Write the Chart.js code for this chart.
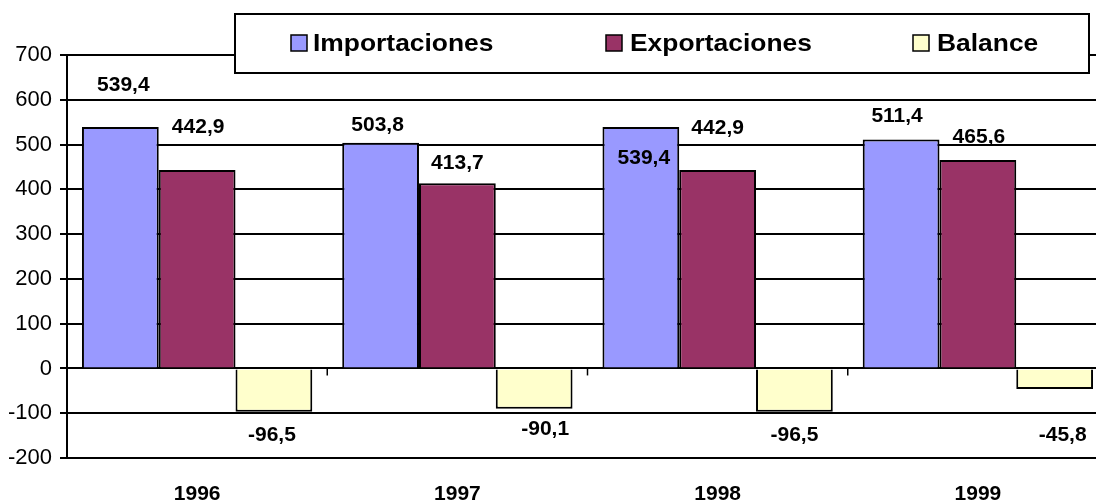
<!DOCTYPE html>
<html>
<head>
<meta charset="utf-8">
<script src="https://cdn.jsdelivr.net/npm/chart.js@4/dist/chart.umd.min.js"></script>
<style>
  html, body { margin: 0; padding: 0; background: #fff; overflow: hidden; }
  #wrap { position: absolute; left: 0; top: 0; width: 1110px; height: 502px; }
</style>
</head>
<body>
<div id="wrap"><canvas id="chart"></canvas></div>
<script>
// ── Data ─────────────────────────────────────────────
const years         = ['1996', '1997', '1998', '1999'];
const importaciones = [539.4, 503.8, 539.4, 511.4];
const exportaciones = [442.9, 413.7, 442.9, 465.6];
const balance       = [-96.5, -90.1, -96.5, -45.8];
const yTicks        = [-200, -100, 0, 100, 200, 300, 400, 500, 600, 700];

const FONT = "'Liberation Sans', Arial, sans-serif";
const COLORS = ['#9999ff', '#993366', '#ffffcc'];

// label nudges (px) relative to bar top, as placed in the original
const labelDy = [
  [-42, -18, 31, -23],
  [-43, -20, -42, -23],
  [0, -6, 0, 0],
];
const labelDx = [
  [3, -3, 3, -4],
  [1, 0, 0, 1],
  [-2, 11, 0, 8],
];

const fmt = v => v.toFixed(1).replace('.', ',');

// ── Plugins ──────────────────────────────────────────
const valueLabels = {
  id: 'valueLabels',
  afterDatasetsDraw(chart) {
    const { ctx } = chart;
    const yScale = chart.scales.y;
    ctx.save();
    ctx.font = `bold 21px ${FONT}`;
    ctx.fillStyle = '#000';
    ctx.textAlign = 'center';
    ctx.textBaseline = 'middle';
    chart.data.datasets.forEach((ds, di) => {
      chart.getDatasetMeta(di).data.forEach((bar, i) => {
        let y;
        if (di === 2) y = yScale.getPixelForValue(-150) + labelDy[di][i];
        else y = bar.y + labelDy[di][i];
        ctx.fillText(fmt(ds.data[i]), bar.x + labelDx[di][i], y);
      });
    });
    ctx.restore();
  },
};

const zeroTicks = {
  id: 'zeroTicks',
  afterDraw(chart) {
    const { ctx } = chart;
    const x = chart.scales.x, y = chart.scales.y;
    const y0 = y.getPixelForValue(0);
    ctx.save();
    ctx.strokeStyle = '#000';
    ctx.lineWidth = 1.5;
    for (let i = 0; i < years.length - 1; i++) {
      const px = (x.getPixelForValue(i) + x.getPixelForValue(i + 1)) / 2;
      ctx.beginPath();
      ctx.moveTo(px, y0);
      ctx.lineTo(px, y0 + 7);
      ctx.stroke();
    }
    ctx.restore();
  },
};

const boxLegend = {
  id: 'boxLegend',
  afterDraw(chart) {
    const { ctx } = chart;
    ctx.save();
    ctx.fillStyle = '#fff';
    ctx.fillRect(235, 14, 854, 59);
    ctx.strokeStyle = '#000';
    ctx.lineWidth = 2;
    ctx.strokeRect(235, 14, 854, 59);
    const boxX  = [291, 606, 913];
    const textX = [313, 630, 937];
    ctx.font = `bold 24px ${FONT}`;
    ctx.textBaseline = 'middle';
    ctx.textAlign = 'left';
    chart.data.datasets.forEach((ds, i) => {
      ctx.fillStyle = COLORS[i];
      ctx.fillRect(boxX[i], 35, 16, 16);
      ctx.lineWidth = 1.5;
      ctx.strokeRect(boxX[i], 35, 16, 16);
      // the original legend text is slightly stretched sideways
      ctx.save();
      ctx.translate(textX[i], 44);
      ctx.scale(1.1, 1);
      ctx.fillStyle = '#000';
      ctx.fillText(ds.label, 0, 0);
      ctx.restore();
    });
    ctx.restore();
  },
};

// ── Chart ────────────────────────────────────────────
const barStyle = { borderColor: '#000', borderWidth: 2, categoryPercentage: 0.885, barPercentage: 1.0 };

new Chart(document.getElementById('chart'), {
  type: 'bar',
  data: {
    labels: years,
    datasets: [
      { label: 'Importaciones', data: importaciones, backgroundColor: COLORS[0], ...barStyle },
      { label: 'Exportaciones', data: exportaciones, backgroundColor: COLORS[1], ...barStyle },
      { label: 'Balance',       data: balance,       backgroundColor: COLORS[2], ...barStyle },
    ],
  },
  options: {
    responsive: true,
    maintainAspectRatio: false,
    animation: false,
    layout: { padding: { top: 55, right: 2, left: 0, bottom: 0 } },
    plugins: {
      legend: { display: false },
      tooltip: { enabled: false },
    },
    scales: {
      x: {
        grid: { display: false, drawTicks: false },
        border: { display: false },
        ticks: { color: '#000', padding: 24, font: { family: FONT, size: 21, weight: 'bold' } },
        afterFit: s => { s.height = 44; },
      },
      y: {
        min: yTicks[0],
        max: yTicks[yTicks.length - 1],
        afterBuildTicks: s => { s.ticks = yTicks.map(v => ({ value: v })); },
        grid: { color: '#000', lineWidth: 2, tickLength: 7 },
        border: { display: true, color: '#000', width: 2 },
        ticks: { color: '#000', padding: 8, font: { family: FONT, size: 22 } },
        afterFit: s => { s.width = 67; },
      },
    },
  },
  plugins: [valueLabels, zeroTicks, boxLegend],
});
</script>
</body>
</html>
